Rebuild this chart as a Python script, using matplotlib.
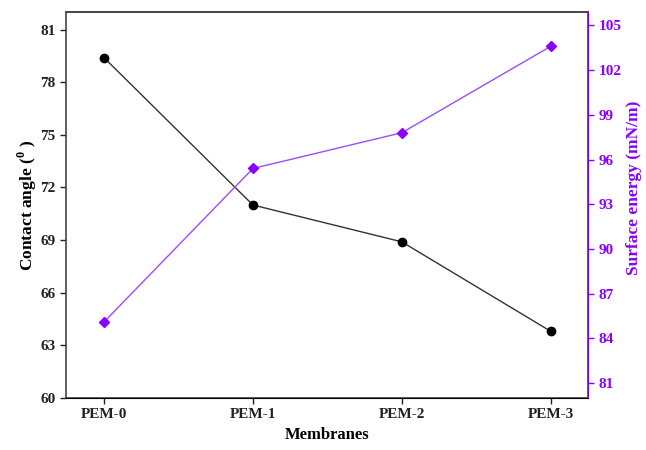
import numpy as np
import matplotlib.pyplot as plt

# membrane samples and measured properties
membranes = ['PEM-0', 'PEM-1', 'PEM-2', 'PEM-3']
contact_angle = [79.4, 71.0, 68.9, 63.8]
surface_energy = [85.1, 95.4, 97.8, 103.6]

purple = '#8a00ff'
plt.rcParams['font.family'] = 'Liberation Serif'
plt.rcParams['font.weight'] = 'bold'
plt.rcParams['mathtext.fontset'] = 'custom'
plt.rcParams['mathtext.rm'] = 'Liberation Serif:bold'

fig = plt.figure(figsize=(6.46, 4.5), dpi=100)
ax = fig.add_axes([66/646, 1-398/450, (588-66)/646, (398-12)/450])
x = np.arange(len(membranes))

#contact angle on left axis
ax.plot(x, contact_angle, color='#333333', lw=1, marker='o', ms=6,
        mfc='black', mec='black')
ax.set_ylim(60, 82)
ax.set_yticks(np.arange(60, 82, 3))
ax.set_xlim(-0.255, 3.25)
ax.set_xticks(x)
ax.set_xticklabels(membranes)
ax.set_xlabel('Membranes', fontsize=12, fontweight='bold', labelpad=4)
ax.set_ylabel(r'Contact angle ($^{0}$ )', fontsize=12.5, fontweight='bold', labelpad=1)
ax.tick_params(direction='out', length=4, width=1, labelsize=11, colors='#222222')
for s in ['left', 'bottom', 'top']:
    ax.spines[s].set_color('#444444')
    ax.spines[s].set_linewidth(1.2)

#surface energy on right axis
ax2 = ax.twinx()
ax2.plot(x, surface_energy, color='#9a4dff', lw=1, marker='D', ms=5.5,
         mfc=purple, mec=purple)
ax2.set_ylim(80, 105.9)
ax2.set_yticks(np.arange(81, 106, 3))
ax2.tick_params(direction='out', length=4, width=1, labelsize=11,
                colors=purple, labelcolor=purple)
ax2.spines['right'].set_color(purple)
ax2.spines['right'].set_linewidth(1.2)
ax2.spines['left'].set_visible(False)
ax2.spines['top'].set_color('#444444')
ax2.spines['top'].set_linewidth(1.2)
ax2.set_ylabel('Surface energy (mN/m)', fontsize=12.5, fontweight='bold',
               color=purple)
ax2.yaxis.set_label_coords(1.073, 0.545)
for t in ax.get_xticklabels() + ax.get_yticklabels():
    t.set_fontweight('bold')
for t in ax2.get_yticklabels():
    t.set_fontweight('bold')

fig.savefig('out.png', dpi=100)
